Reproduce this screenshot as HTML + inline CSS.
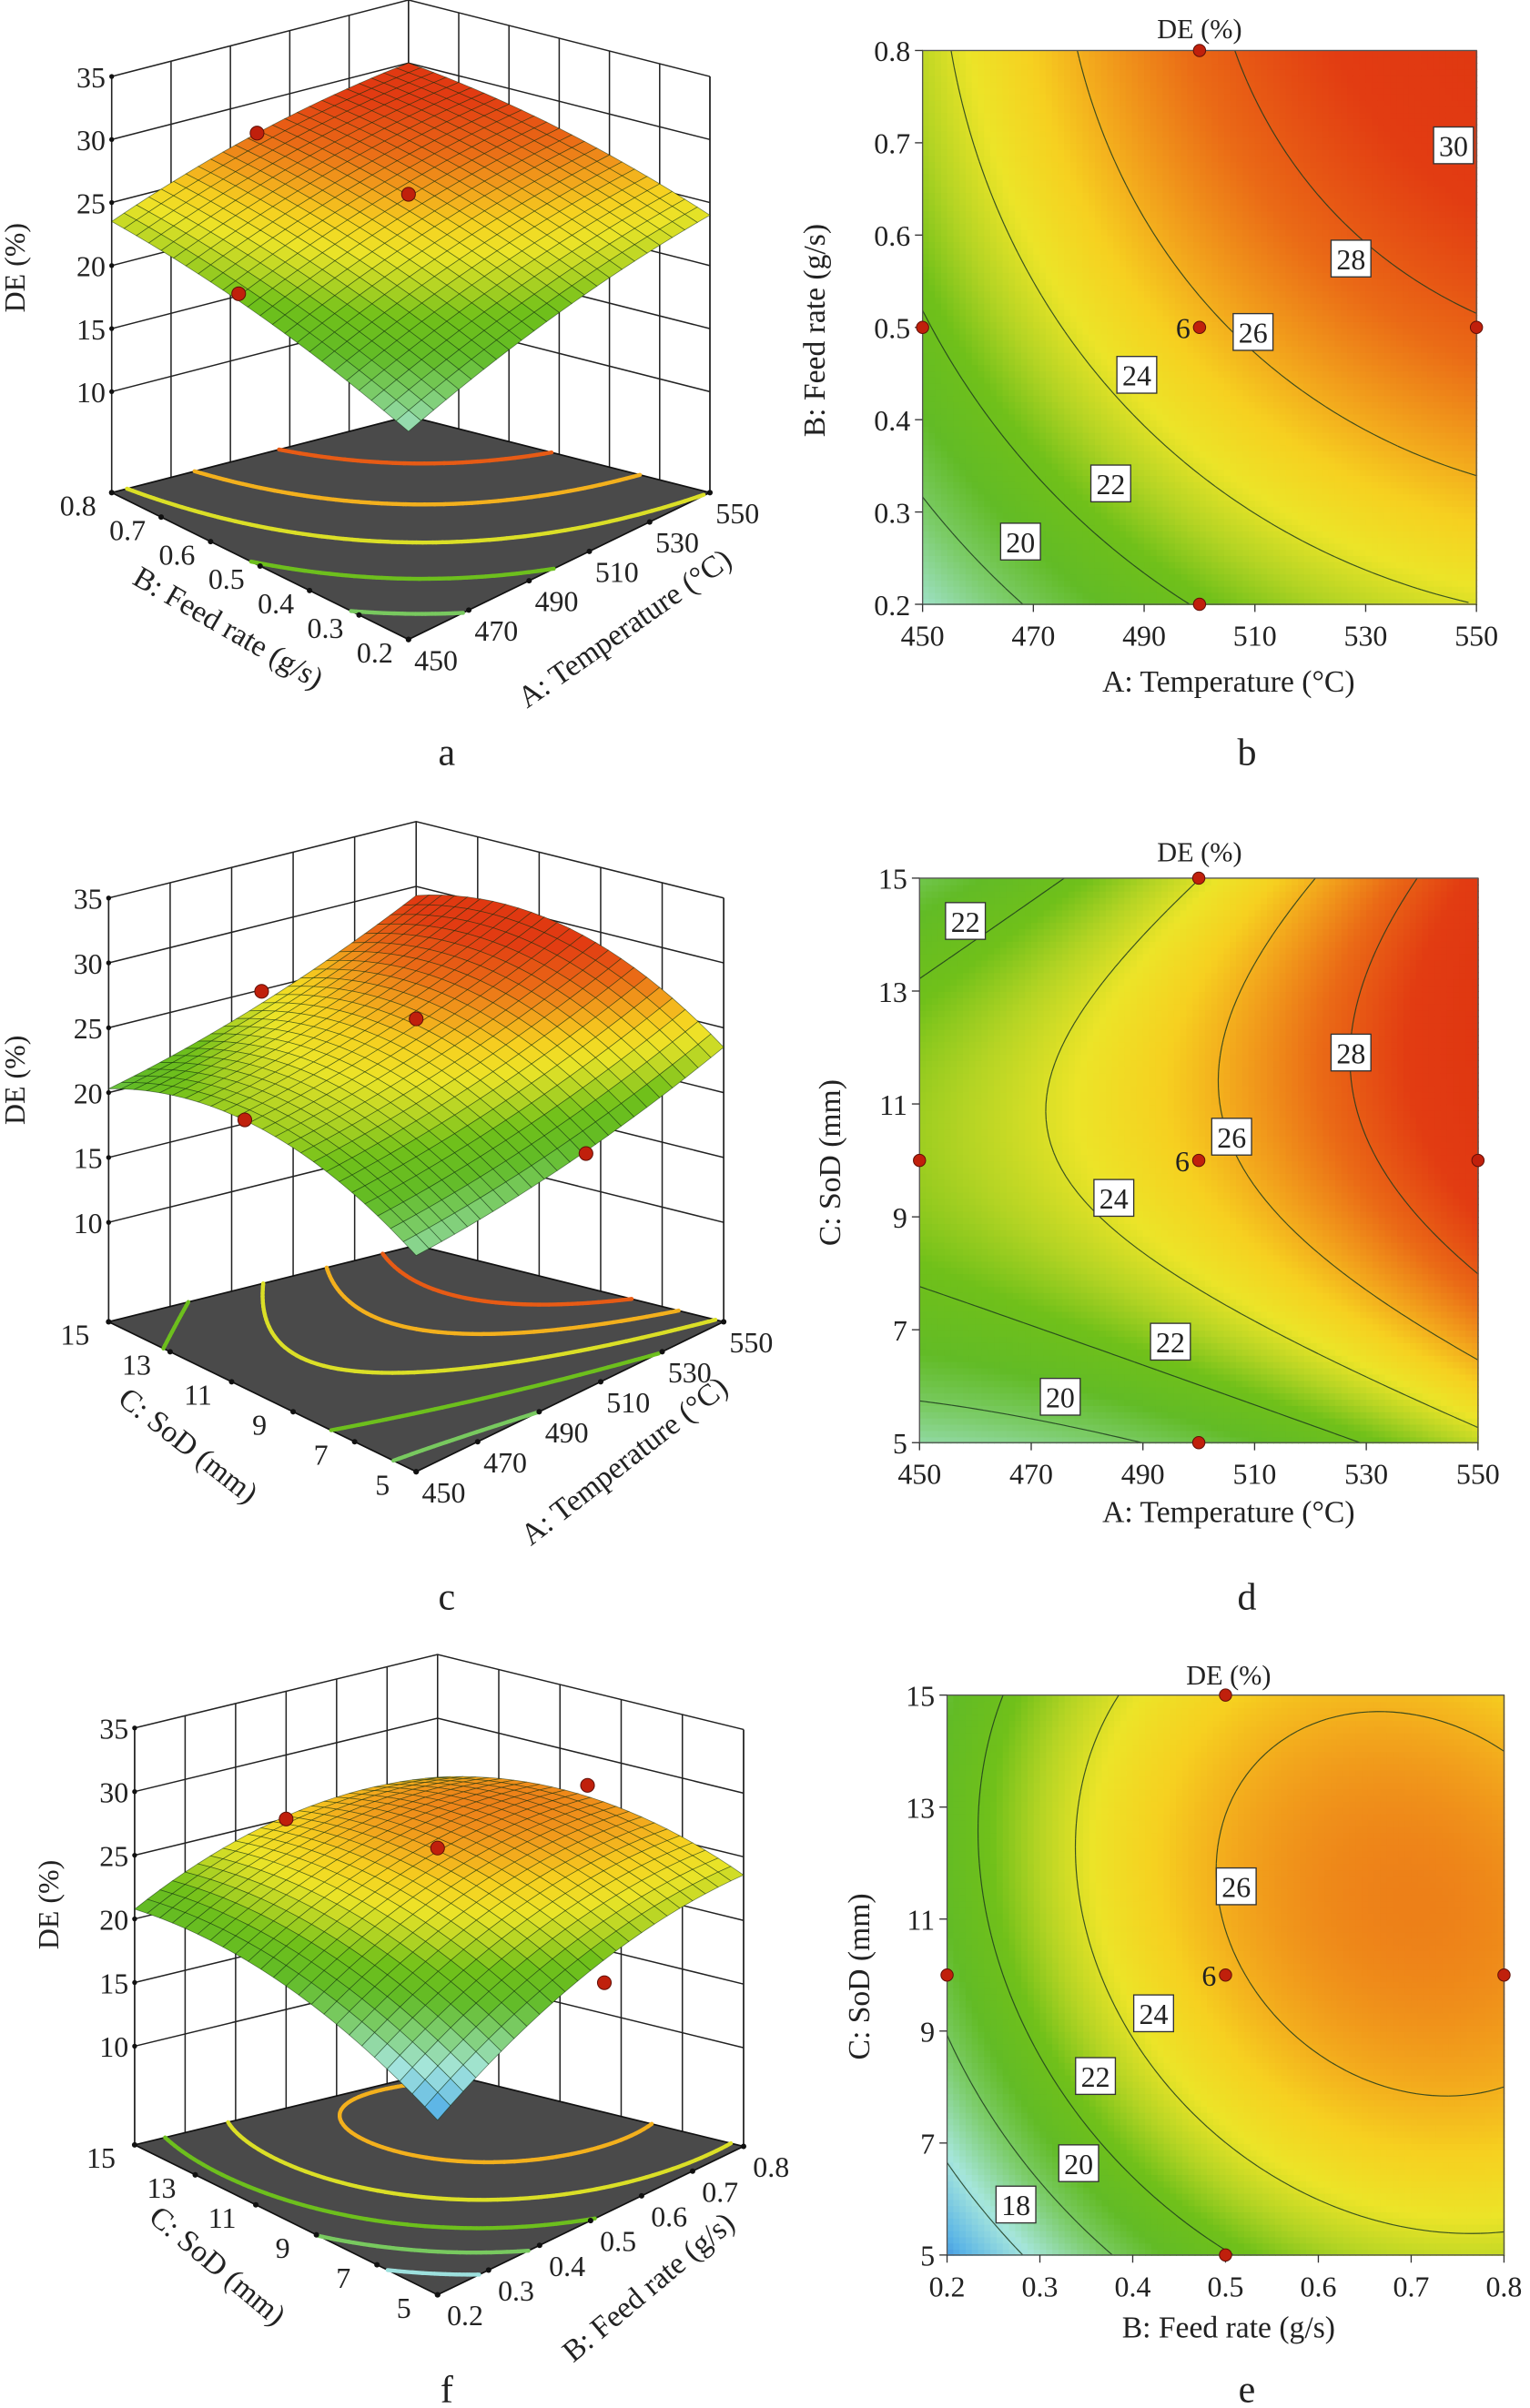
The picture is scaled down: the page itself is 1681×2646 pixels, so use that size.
<!DOCTYPE html>
<html><head><meta charset="utf-8"><style>
html,body{margin:0;padding:0;background:#fff;}
svg{display:block;}
text{font-family:"Liberation Serif",serif;fill:#222;}
</style></head><body>
<svg id="s" xmlns="http://www.w3.org/2000/svg" width="1681" height="2646" viewBox="0 0 1000 1574" preserveAspectRatio="none">
<g id="g"></g>
<g id="labels" font-size="19">
<text x="292" y="500" font-size="25" text-anchor="middle">a</text>
<text x="815" y="500" font-size="25" text-anchor="middle">b</text>
<text x="292" y="1052" font-size="25" text-anchor="middle">c</text>
<text x="815" y="1052" font-size="25" text-anchor="middle">d</text>
<text x="292" y="1570" font-size="25" text-anchor="middle">f</text>
<text x="815" y="1570" font-size="25" text-anchor="middle">e</text>
<text x="784" y="25" text-anchor="middle" font-size="18">DE (%)</text>
<text x="803" y="452" text-anchor="middle" font-size="20">A: Temperature (°C)</text>
<text transform="translate(539,216) rotate(-90)" text-anchor="middle" font-size="20">B: Feed rate (g/s)</text>
<text x="784" y="563" text-anchor="middle" font-size="18">DE (%)</text>
<text x="803" y="995" text-anchor="middle" font-size="20">A: Temperature (°C)</text>
<text transform="translate(549,760) rotate(-90)" text-anchor="middle" font-size="20">C: SoD (mm)</text>
<text x="803" y="1101" text-anchor="middle" font-size="18">DE (%)</text>
<text x="803" y="1528" text-anchor="middle" font-size="20">B: Feed rate (g/s)</text>
<text transform="translate(568,1292) rotate(-90)" text-anchor="middle" font-size="20">C: SoD (mm)</text>
<text transform="translate(16,175) rotate(-90)" text-anchor="middle" font-size="19">DE (%)</text>
<text transform="translate(146,416) rotate(30)" text-anchor="middle" font-size="20">B: Feed rate (g/s)</text>
<text transform="translate(412,416) rotate(-35)" text-anchor="middle" font-size="20">A: Temperature (°C)</text>
<text transform="translate(16,706) rotate(-90)" text-anchor="middle" font-size="19">DE (%)</text>
<text transform="translate(119,950) rotate(38)" text-anchor="middle" font-size="20">C: SoD (mm)</text>
<text transform="translate(412,960) rotate(-38)" text-anchor="middle" font-size="20">A: Temperature (°C)</text>
<text transform="translate(38,1245) rotate(-90)" text-anchor="middle" font-size="19">DE (%)</text>
<text transform="translate(138,1486) rotate(40)" text-anchor="middle" font-size="20">C: SoD (mm)</text>
<text transform="translate(428,1500) rotate(-40)" text-anchor="middle" font-size="20">B: Feed rate (g/s)</text>
</g>
</svg>
<script>
var NS="http://www.w3.org/2000/svg",G=document.getElementById('g');
function el(t,a,p){var e=document.createElementNS(NS,t);for(var k in a)e.setAttribute(k,a[k]);(p||G).appendChild(e);return e;}
function txt(x,y,s,a){var e=el('text',Object.assign({x:x,y:y},a||{}));e.textContent=s;return e;}
var ST=[[15,'#2a6cd4'],[16.5,'#5ab4e6'],[18.2,'#a6e6dc'],[19.8,'#7ccc6a'],[21,'#62bb26'],[22.3,'#70c01a'],[23.3,'#b4d424'],[24.3,'#ece428'],[25.3,'#f6d020'],[26.3,'#f2a21c'],[27.5,'#ea6a16'],[29,'#e23c12'],[32,'#dc3010']];
function hx(c){return [parseInt(c.substr(1,2),16),parseInt(c.substr(3,2),16),parseInt(c.substr(5,2),16)];}
function cmap(z){if(z<=ST[0][0])return ST[0][1];for(var i=1;i<ST.length;i++){if(z<=ST[i][0]){var t=(z-ST[i-1][0])/(ST[i][0]-ST[i-1][0]),a=hx(ST[i-1][1]),b=hx(ST[i][1]);return 'rgb('+[0,1,2].map(function(k){return Math.round(a[k]+(b[k]-a[k])*t)}).join(',')+')';}}return ST[ST.length-1][1];}
function fa(u,v){return 18.5+8.9*u+8.4*v+1*u*v-3.4*u*u-3.4*v*v;}
function fd(u,v){return 19+1.2*u+3.3*u*u+14.5*v-13.2*v*v+4.5*u*v;}
function fe(u,v){return 27-8.5*(u-0.85)*(u-0.85)-9*(v-0.6)*(v-0.6)+3*(1-u)*(v-0.55);}
function contours(f,map,levels,N,attr){
 for(var i=0;i<N;i++)for(var j=0;j<N;j++){
  var u0=i/N,u1=(i+1)/N,v0=j/N,v1=(j+1)/N;
  var c=[[u0,v0,f(u0,v0)],[u1,v0,f(u1,v0)],[u1,v1,f(u1,v1)],[u0,v1,f(u0,v1)]];
  levels.forEach(function(L){var pts=[];
   for(var k=0;k<4;k++){var a=c[k],b=c[(k+1)%4];if((a[2]-L)*(b[2]-L)<0){var t=(L-a[2])/(b[2]-a[2]);pts.push([a[0]+t*(b[0]-a[0]),a[1]+t*(b[1]-a[1])]);}}
   if(pts.length>=2){var p=map(pts[0][0],pts[0][1]),q=map(pts[1][0],pts[1][1]);
    var at=typeof attr=='function'?attr(L):attr;
    el('line',Object.assign({x1:p[0],y1:p[1],x2:q[0],y2:q[1]},at));}
  });
 }}
function plot2d(x0,y0,x1,y1,f,levels,xt,yt,boxes){
 var N=90,w=(x1-x0)/N,h=(y1-y0)/N;
 for(var i=0;i<N;i++)for(var j=0;j<N;j++){el('rect',{x:x0+i*w,y:y1-(j+1)*h,width:w+0.6,height:h+0.6,fill:cmap(f((i+.5)/N,(j+.5)/N))});}
 var map=function(u,v){return [x0+u*(x1-x0),y1-v*(y1-y0)];};
 contours(f,map,levels,70,{stroke:'#1d3a1d','stroke-width':0.7,'stroke-opacity':0.85});
 el('rect',{x:x0,y:y0,width:x1-x0,height:y1-y0,fill:'none',stroke:'#555','stroke-width':0.8});
 xt.forEach(function(s,i){var x=x0+i*(x1-x0)/(xt.length-1);el('line',{x1:x,y1:y1,x2:x,y2:y1+5,stroke:'#333','stroke-width':0.8});txt(x,y1+27,s,{'text-anchor':'middle','font-size':19});});
 yt.forEach(function(s,i){var y=y1-i*(y1-y0)/(yt.length-1);el('line',{x1:x0-5,y1:y,x2:x0,y2:y,stroke:'#333','stroke-width':0.8});txt(x0-8,y+7,s,{'text-anchor':'end','font-size':19});});
 boxes.forEach(function(b){el('rect',{x:b[0]-13,y:b[1]-12,width:26,height:24,fill:'#fff',stroke:'#333','stroke-width':0.8});txt(b[0],b[1]+7,b[2],{'text-anchor':'middle','font-size':19});});
 var xm=(x0+x1)/2,ym=(y0+y1)/2;
 [[xm,y0],[xm,y1],[x0,ym],[x1,ym],[xm,ym]].forEach(function(p){el('circle',{cx:p[0],cy:p[1],r:4,fill:'#c0200c',stroke:'#601008','stroke-width':0.6});});
 txt(xm-6,ym+7,'6',{'text-anchor':'end','font-size':19});
}
function plot3d(P,f,levels,uT,vT,zLab,dots){
 var L=P.L,F=P.F,R=P.R,B=P.B,off=P.off,k=P.k;
 function base(u,v){return [(1-u)*(1-v)*F[0]+u*(1-v)*R[0]+(1-u)*v*L[0]+u*v*B[0],(1-u)*(1-v)*F[1]+u*(1-v)*R[1]+(1-u)*v*L[1]+u*v*B[1]];}
 function pz(u,v,z){var b=base(u,v);return [b[0],b[1]-off-(z-10)*k];}
 var ln={stroke:'#222','stroke-width':0.9,fill:'none'};
 var top=function(u,v){return pz(u,v,35);};
 for(var z=10;z<=35;z+=5){var a=pz(0,1,z),b=pz(1,1,z),c=pz(1,0,z);el('polyline',Object.assign({points:a+' '+b+' '+c},ln));}
 uT.forEach(function(s,i){var u=i/(uT.length-1);var p=base(u,1),q=top(u,1);el('line',Object.assign({x1:p[0],y1:p[1],x2:q[0],y2:q[1]},ln));});
 vT.forEach(function(s,i){var v=i/(vT.length-1);var p=base(1,v),q=top(1,v);el('line',Object.assign({x1:p[0],y1:p[1],x2:q[0],y2:q[1]},ln));});
 [[0,1],[1,0]].forEach(function(c){var p=base(c[0],c[1]),q=top(c[0],c[1]);el('line',Object.assign({x1:p[0],y1:p[1],x2:q[0],y2:q[1]},ln));});
 el('polygon',{points:[L,F,R,B].map(function(p){return p.join(',')}).join(' '),fill:'#4a4a4a',stroke:'#111','stroke-width':1});
 contours(f,base,levels,60,function(Lv){return {stroke:cmap(Lv),'stroke-width':2.6,'stroke-linecap':'round'};});
 zLab.forEach(function(s,i){var p=pz(0,1,10+5*i);el('circle',{cx:p[0],cy:p[1],r:1.6,fill:'#111'});txt(p[0]-4,p[1]+7,s,{'text-anchor':'end','font-size':19});});
 vT.forEach(function(s,i){var v=i/(vT.length-1);var p=base(0,v);el('circle',{cx:p[0],cy:p[1],r:1.8,fill:'#111'});txt(p[0]-22,p[1]+15,s,{'text-anchor':'middle','font-size':19});});
 uT.forEach(function(s,i){var u=i/(uT.length-1);var p=base(u,0);el('circle',{cx:p[0],cy:p[1],r:1.8,fill:'#111'});txt(p[0]+18,p[1]+20,s,{'text-anchor':'middle','font-size':19});});
 var N=24,q=[];
 for(var i=0;i<N;i++)for(var j=0;j<N;j++)q.push([i,j]);
 q.sort(function(a,b){return (b[0]+b[1])-(a[0]+a[1]);});
 q.forEach(function(c){var u0=c[0]/N,u1=(c[0]+1)/N,v0=c[1]/N,v1=(c[1]+1)/N;
  var pts=[pz(u0,v0,f(u0,v0)),pz(u1,v0,f(u1,v0)),pz(u1,v1,f(u1,v1)),pz(u0,v1,f(u0,v1))];
  el('polygon',{points:pts.map(function(p){return p[0].toFixed(2)+','+p[1].toFixed(2)}).join(' '),fill:cmap(f((u0+u1)/2,(v0+v1)/2)),stroke:'rgba(10,40,10,0.55)','stroke-width':0.45});});
 dots.forEach(function(d){el('circle',{cx:d[0],cy:d[1],r:4.5,fill:d[2]?'#f3d0d0':'#c0200c',stroke:'#601008','stroke-width':0.6});});
}
var xa=['450','470','490','510','530','550'];
plot3d({L:[73,322],F:[267,418],R:[464,322],B:[267,272],off:66,k:8.24},fa,[20,22,24,26,28],xa,['0.2','0.3','0.4','0.5','0.6','0.7','0.8'],['10','15','20','25','30','35'],[[168,87],[267,127],[156,192]]);
plot3d({L:[71,864],F:[272,962],R:[473,864],B:[272,814],off:65,k:8.48},fd,[20,22,24,26,28],xa,['5','7','9','11','13','15'],['10','15','20','25','30','35'],[[171,648],[272,666],[160,732],[383,754]]);
plot3d({L:[88,1402],F:[286,1500],R:[486,1403],B:[286,1354],off:64.5,k:8.32},fe,[18,20,22,24,26],['0.2','0.3','0.4','0.5','0.6','0.7','0.8'],['5','7','9','11','13','15'],['10','15','20','25','30','35'],[[187,1189],[286,1208],[384,1167],[395,1296]]);
plot2d(603,33,965,395,fa,[20,22,24,26,28,30],xa,['0.2','0.3','0.4','0.5','0.6','0.7','0.8'],[[950,95,'30'],[883,169,'28'],[819,217,'26'],[743,245,'24'],[726,316,'22'],[667,354,'20']]);
plot2d(601,574,966,943,fd,[20,22,24,26,28],xa,['5','7','9','11','13','15'],[[631,602,'22'],[883,688,'28'],[805,743,'26'],[728,783,'24'],[765,877,'22'],[693,913,'20']]);
plot2d(619,1108,983,1474,fe,[18,20,22,24,26],['0.2','0.3','0.4','0.5','0.6','0.7','0.8'],['5','7','9','11','13','15'],[[808,1233,'26'],[754,1316,'24'],[716,1357,'22'],[705,1414,'20'],[664,1441,'18']]);
</script>
</body></html>
